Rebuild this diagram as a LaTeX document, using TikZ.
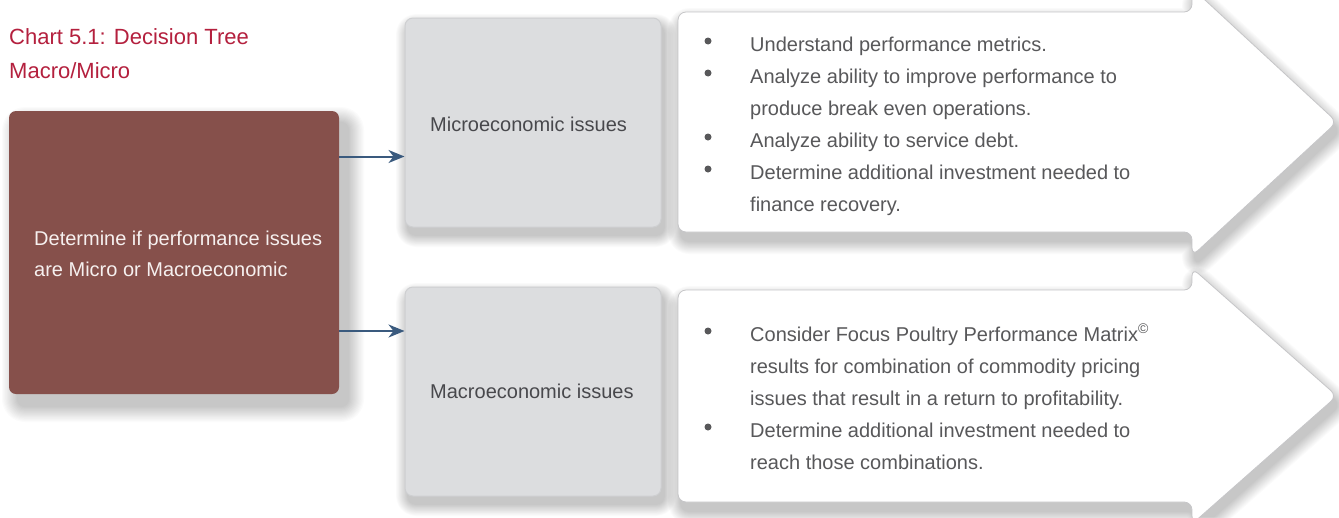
\documentclass[tikz,border=0pt]{standalone}
\usepackage{fontspec}
\setmainfont{Liberation Sans}
\usetikzlibrary{arrows.meta}

\definecolor{titlered}{RGB}{180,32,62}
\definecolor{maroonfill}{RGB}{134,80,75}
\definecolor{roottext}{RGB}{246,240,239}
\definecolor{steel}{RGB}{58,90,126}
\definecolor{panelgray}{RGB}{220,221,223}
\definecolor{panelline}{RGB}{206,207,209}
\definecolor{labeltext}{RGB}{72,72,76}
\definecolor{bodytext}{RGB}{88,88,90}
\definecolor{chevline}{RGB}{198,198,200}

% outlines of the drawn shapes
\def\rootpath{(9,111) rectangle (339,394)}
\def\micropath{(405,18) rectangle (661,227)}
\def\macropath{(405,287) rectangle (661,496)}
\def\chevApath{(678,12) -- (1192,12) -- (1192,-12) -- (1337,122) -- (1192,256) -- (1192,232) -- (678,232) -- cycle}
\def\chevBpath{(678,290) -- (1192,290) -- (1192,268) -- (1337,396) -- (1192,524) -- (1192,502) -- (678,502) -- cycle}

% soft drop shadow: #1 outline, #2/#3 offset, #4 spread, #5 opacity per layer, #6 corner radius
\newcommand\softshadow[6]{%
  \foreach \k in {0,...,13}{%
    \pgfmathsetmacro\lw{2*#4*(14-\k)/14}%
    \begin{scope}[transparency group, opacity=#5]
      \path[shift={(#2,#3)}, fill=black, draw=black, line join=round,
            line width=\lw pt, rounded corners=#6] #1;
    \end{scope}}}

\begin{document}
\begin{tikzpicture}[x=1pt,y=-1pt,
  titletxt/.style={font=\fontsize{22}{34}\selectfont, text=titlered, inner sep=0pt, anchor=base west},
  roottxt/.style={font=\fontsize{20}{31}\selectfont, text=roottext, inner sep=0pt, anchor=base west},
  labeltxt/.style={font=\fontsize{20}{32}\selectfont, text=labeltext, inner sep=0pt, anchor=base west},
  bodytxt/.style={font=\fontsize{20}{32}\selectfont, text=bodytext, inner sep=0pt, anchor=base west},
  rootbox/.style={fill=maroonfill, rounded corners=7pt, inner sep=0pt,
    minimum width=330pt, minimum height=283pt},
  panel/.style={fill=panelgray, draw=panelline, line width=1pt, rounded corners=8pt, inner sep=0pt,
    minimum width=256pt, minimum height=209pt},
  chevron/.style={fill=white, draw=chevline, line width=0.8pt, rounded corners=8pt},
  bulletdot/.style={circle, fill=bodytext, inner sep=0pt, minimum size=7pt},
  conn/.style={draw=steel, line width=2pt, -{Stealth[length=16pt,width=13pt,inset=5pt]}}
]
\useasboundingbox (0,0) rectangle (1339,517);
\fill[white] (0,0) rectangle (1339,517);

% shadows
\softshadow{\rootpath}{9}{12}{16}{0.017}{7pt}
\softshadow{\chevApath}{3}{9}{13}{0.014}{8pt}
\softshadow{\chevBpath}{3}{9}{13}{0.014}{8pt}
\softshadow{\micropath}{3}{8}{12}{0.014}{8pt}
\softshadow{\macropath}{3}{8}{12}{0.014}{8pt}

% heading
\node[titletxt] (title1) at (9,44) {Chart 5.1: Decision Tree};
\node[titletxt] (title2) at (9,78) {Macro/Micro};

% decision box
\node[rootbox] (root) at (174,252.5) {};
\node[roottxt] (rootl1) at (34,245) {Determine if performance issues};
\node[roottxt] (rootl2) at (34,276) {are Micro or Macroeconomic};

% outcome chevrons
\path[chevron] \chevApath;
\path[chevron] \chevBpath;

% branch boxes
\node[panel] (micro) at (533,122.5) {};
\node[panel] (macro) at (533,391.5) {};
\node[labeltxt] (microlabel) at (430,131) {Microeconomic issues};
\node[labeltxt] (macrolabel) at (430,398) {Macroeconomic issues};

% connectors
\coordinate (microin) at ([yshift=-34pt]micro.west);
\coordinate (macroin) at ([yshift=60.5pt]macro.west);
\draw[conn] (root.east |- microin) -- (microin);
\draw[conn] (root.east |- macroin) -- (macroin);

% microeconomic actions
\node[bulletdot] (mb1) at (708,41) {};
\node[bulletdot] (mb2) at (708,73) {};
\node[bulletdot] (mb3) at (708,137) {};
\node[bulletdot] (mb4) at (708,169) {};
\node[bodytxt] (mt1) at (750,51) {Understand performance metrics.};
\node[bodytxt] (mt2) at (750,83) {Analyze ability to improve performance to};
\node[bodytxt] (mt3) at (750,115) {produce break even operations.};
\node[bodytxt] (mt4) at (750,147) {Analyze ability to service debt.};
\node[bodytxt] (mt5) at (750,179) {Determine additional investment needed to};
\node[bodytxt] (mt6) at (750,211) {finance recovery.};

% macroeconomic actions
\node[bulletdot] (ab1) at (708,331) {};
\node[bulletdot] (ab2) at (708,427) {};
\node[bodytxt] (at1) at (750,341) {Consider Focus Poultry Performance Matrix\textsuperscript{\textcopyright}};
\node[bodytxt] (at2) at (750,373) {results for combination of commodity pricing};
\node[bodytxt] (at3) at (750,405) {issues that result in a return to profitability.};
\node[bodytxt] (at4) at (750,437) {Determine additional investment needed to};
\node[bodytxt] (at5) at (750,469) {reach those combinations.};
\end{tikzpicture}
\end{document}
